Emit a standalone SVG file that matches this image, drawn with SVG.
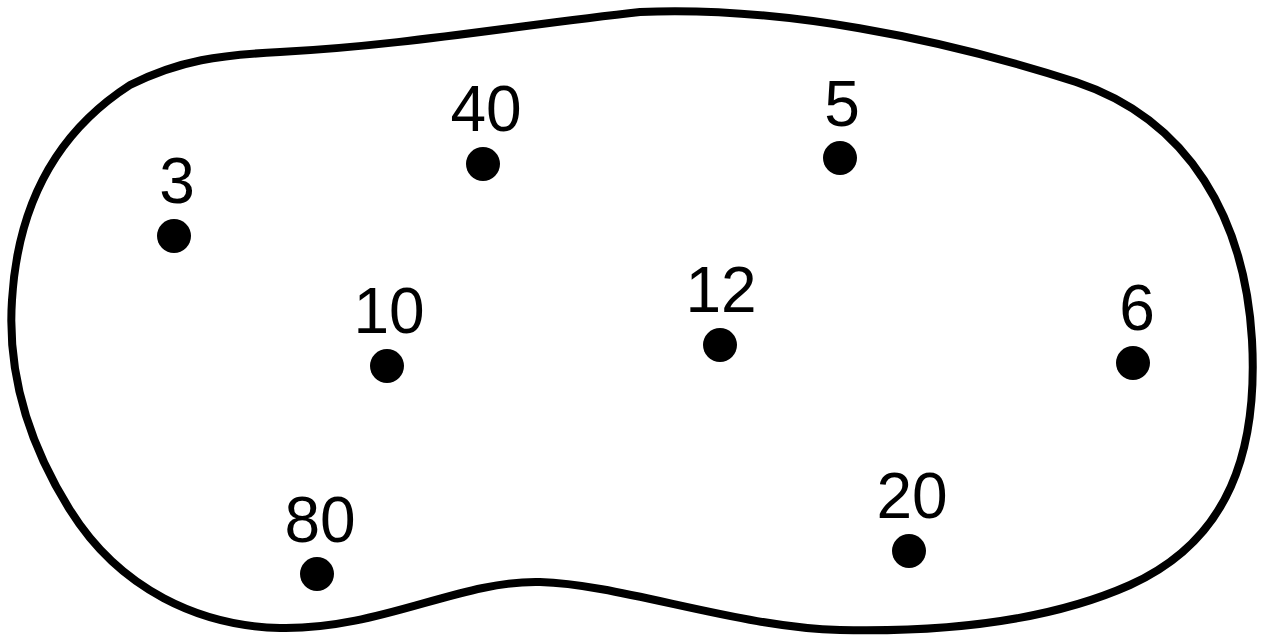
<svg xmlns="http://www.w3.org/2000/svg" width="1267" height="637" viewBox="0 0 1267 637">
<style>
.outline{fill:#fff;stroke:#000;stroke-width:8;stroke-linejoin:round}
.dot{fill:#000}
.lbl{font-family:"Liberation Sans",Arial,sans-serif;font-size:64px;fill:#000;text-anchor:middle}
</style>
<rect width="1267" height="637" fill="#fff"/>
<g id="blob">
<path class="outline" d="M 640,12 C 780,6 940,38 1076,82 C 1190,120 1245,220 1252,340 C 1258,450 1230,540 1130,585 C 1040,625 930,632 840,630 C 740,628 620,584 540,582 C 460,580 380,630 280,628 C 200,626 120,590 70,510 C 20,430 8,360 12,300 C 18,200 60,130 130,85 C 180,60 220,55 280,52 C 400,46 520,25 640,12 Z"/>
</g>
<g id="connectors"></g>
<g id="n3"><circle class="dot" cx="174" cy="236" r="17"/><text class="lbl" x="177" y="203">3</text></g>
<g id="n40"><circle class="dot" cx="483" cy="164" r="17"/><text class="lbl" x="486" y="131">40</text></g>
<g id="n5"><circle class="dot" cx="840" cy="158" r="17"/><text class="lbl" x="842" y="126">5</text></g>
<g id="n10"><circle class="dot" cx="387" cy="366" r="17"/><text class="lbl" x="389" y="333">10</text></g>
<g id="n12"><circle class="dot" cx="720" cy="345" r="17"/><text class="lbl" x="721" y="312">12</text></g>
<g id="n6"><circle class="dot" cx="1133" cy="363" r="17"/><text class="lbl" x="1137" y="330">6</text></g>
<g id="n80"><circle class="dot" cx="317" cy="574" r="17"/><text class="lbl" x="320" y="542">80</text></g>
<g id="n20"><circle class="dot" cx="909" cy="551" r="17"/><text class="lbl" x="912" y="518">20</text></g>
</svg>
